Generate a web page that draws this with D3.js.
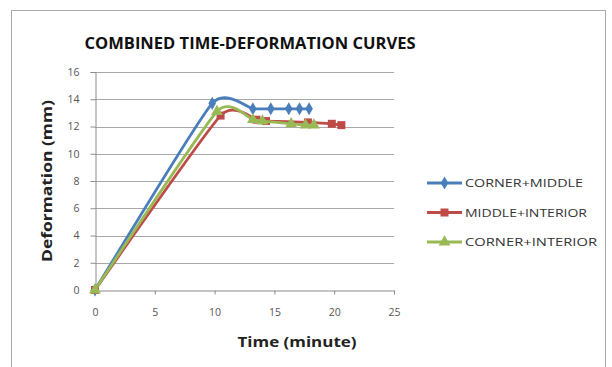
<!DOCTYPE html>
<html><head><meta charset="utf-8">
<script src="https://cdn.jsdelivr.net/npm/d3@7"></script>
<style>body{margin:0;background:#fff}svg{display:block}</style>
</head><body>
<svg id="c" width="612" height="367"></svg>
<script>
const seriesNames = ["CORNER+MIDDLE", "MIDDLE+INTERIOR", "CORNER+INTERIOR"];
const seriesColors = ["#4a7ebb", "#be4b48", "#98b954"];
const blueTime = [0, 9.8, 13.2, 14.7, 16.2, 17.1, 17.9];
const blueDef  = [0, 13.7, 13.3, 13.3, 13.3, 13.3, 13.3];
const redTime  = [0, 10.5, 13.5, 14.3, 17.8, 19.8, 20.6];
const redDef   = [0, 12.8, 12.5, 12.4, 12.3, 12.2, 12.1];
const greenTime = [0, 10.2, 13.2, 14.0, 16.4, 17.6, 18.3];
const greenDef  = [0, 13.1, 12.5, 12.4, 12.2, 12.1, 12.1];
const xTicks = [0, 5, 10, 15, 20, 25];
const yTicks = [0, 2, 4, 6, 8, 10, 12, 14, 16];

const series = [
  {name: seriesNames[0], color: seriesColors[0], shape: d3.symbolDiamond, size: 50, t: blueTime, d: blueDef},
  {name: seriesNames[1], color: seriesColors[1], shape: d3.symbolSquare, size: 64, t: redTime, d: redDef},
  {name: seriesNames[2], color: seriesColors[2], shape: d3.symbolTriangle, size: 60, t: greenTime, d: greenDef}
];

const svg = d3.select("#c");
svg.append("rect").attr("x", 11.5).attr("y", 10.5).attr("width", 594).attr("height", 380)
  .attr("fill", "#fff").attr("stroke", "#aaa").attr("stroke-width", 1);

const x = d3.scaleLinear().domain([0, 25]).range([95, 394]);
const y = d3.scaleLinear().domain([0, 16]).range([290, 72]);

// gridlines
svg.append("g").selectAll("line").data(yTicks.filter(v => v > 0)).join("line")
  .attr("x1", x(0)).attr("x2", x(25)).attr("y1", d => Math.round(y(d)) + 0.5).attr("y2", d => Math.round(y(d)) + 0.5)
  .attr("stroke", "#a8a8a8").attr("stroke-width", 1);

// axes
const xAxis = svg.append("g").attr("transform", `translate(0,${Math.round(y(0)) + 0.5})`)
  .call(d3.axisBottom(x).tickValues(xTicks).tickSize(4).tickPadding(14));
const yAxis = svg.append("g").attr("transform", `translate(${Math.round(x(0)) + 0.5},0)`)
  .call(d3.axisLeft(y).tickValues(yTicks).tickSize(5).tickPadding(11));
[xAxis, yAxis].forEach(g => {
  g.select(".domain").attr("stroke", "#8c8c8c");
  g.selectAll(".tick line").attr("stroke", "#8c8c8c");
  g.selectAll("text").attr("fill", "#555").attr("font-family", "Open Sans, sans-serif").attr("font-size", 10.5);
});

// lines
const line = d3.line().x(p => x(p[0])).y(p => y(p[1])).curve(d3.curveCardinal.tension(0.5));
series.forEach(s => {
  const pts = s.t.map((t, i) => [t, s.d[i]]);
  svg.append("path").datum(pts).attr("d", line).attr("fill", "none")
    .attr("stroke", s.color).attr("stroke-width", 2.8);
  svg.append("g").selectAll("path").data(pts).join("path")
    .attr("transform", p => `translate(${x(p[0])},${y(p[1])})`)
    .attr("d", d3.symbol().type(s.shape).size(s.size)).attr("fill", s.color);
});

// title
svg.append("text").attr("x", 250).attr("y", 49).attr("text-anchor", "middle")
  .attr("font-family", "Open Sans, sans-serif").attr("font-weight", "bold").attr("font-size", 16.5)
  .attr("textLength", 331).attr("lengthAdjust", "spacingAndGlyphs").attr("fill", "#111")
  .text("COMBINED TIME-DEFORMATION CURVES");

// axis titles
svg.append("text").attr("transform", "translate(52,181) rotate(-90)").attr("text-anchor", "middle")
  .attr("font-family", "Open Sans, sans-serif").attr("font-weight", "bold").attr("font-size", 14)
  .attr("textLength", 162).attr("lengthAdjust", "spacingAndGlyphs")
  .attr("fill", "#222").text("Deformation (mm)");
svg.append("text").attr("x", 297).attr("y", 347).attr("text-anchor", "middle")
  .attr("font-family", "Open Sans, sans-serif").attr("font-weight", "bold").attr("font-size", 14)
  .attr("textLength", 119).attr("lengthAdjust", "spacingAndGlyphs")
  .attr("fill", "#222").text("Time (minute)");

// legend
const leg = svg.append("g");
series.forEach((s, i) => {
  const ly = 183 + i * 29.5;
  leg.append("line").attr("x1", 427).attr("x2", 462).attr("y1", ly).attr("y2", ly)
    .attr("stroke", s.color).attr("stroke-width", 2.8);
  leg.append("path").attr("transform", `translate(444.5,${ly})`)
    .attr("d", d3.symbol().type(s.shape).size(s.size)).attr("fill", s.color);
  leg.append("text").attr("x", 465).attr("y", ly + 4)
    .attr("font-family", "Open Sans, sans-serif").attr("font-size", 10.5).attr("fill", "#333")
    .attr("textLength", i === 0 ? 118 : (i === 1 ? 122 : 132)).attr("lengthAdjust", "spacingAndGlyphs")
    .text(s.name);
});
</script>
</body></html>
